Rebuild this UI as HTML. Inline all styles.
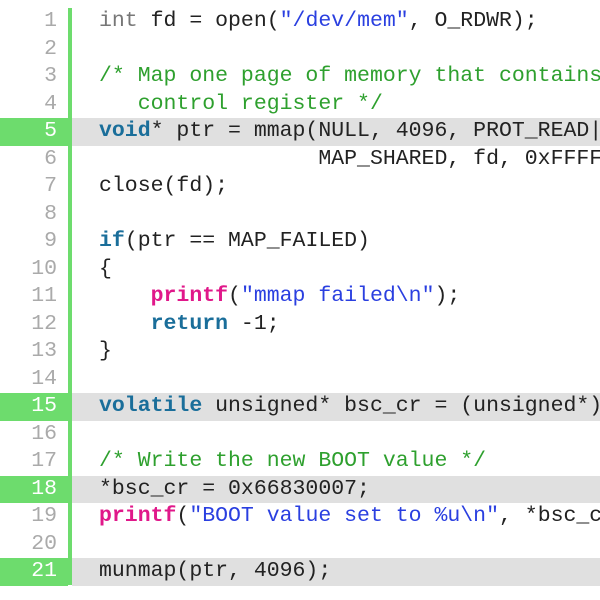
<!DOCTYPE html>
<html><head><style>
body{margin:0;width:600px;height:600px;background:#fff;overflow:hidden;position:relative;font-family:"Liberation Mono","DejaVu Sans Mono",monospace;font-size:21.5px;}
.bar{position:absolute;left:68px;top:8px;width:4px;height:577px;background:#6ddc6d;}
.l{position:absolute;left:0;width:600px;height:27.5px;line-height:27.5px;white-space:pre;overflow:hidden;}
.n{position:absolute;left:0;width:57px;text-align:right;color:#aaa;}
.c{position:absolute;left:99px;color:#222;}
.h .n{background:#6ddc6d;color:#fff;width:57px;padding-right:11px;}
.h::before{content:"";position:absolute;left:72px;right:0;top:0;bottom:0;background:#e0e0e0;}
.k{color:#1a6e9a;font-weight:bold}.t{color:#777}.cm{color:#2ea02e}.s{color:#2a3fe0}.f{color:#e0188a;font-weight:bold}
</style></head><body>
<div class="l" style="top:8px"><span class="n">1</span><span class="c"><span class="t">int</span> fd = open(<span class="s">"/dev/mem"</span>, O_RDWR);</span></div>
<div class="l" style="top:35.5px"><span class="n">2</span></div>
<div class="l" style="top:63px"><span class="n">3</span><span class="c cm">/* Map one page of memory that contains the</span></div>
<div class="l" style="top:90.5px"><span class="n">4</span><span class="c cm">   control register */</span></div>
<div class="l h" style="top:118px"><span class="n">5</span><span class="c"><span class="k">void</span>* ptr = mmap(NULL, 4096, PROT_READ|PROT_WRITE,</span></div>
<div class="l" style="top:145.5px"><span class="n">6</span><span class="c">                 MAP_SHARED, fd, 0xFFFF0000);</span></div>
<div class="l" style="top:173px"><span class="n">7</span><span class="c">close(fd);</span></div>
<div class="l" style="top:200.5px"><span class="n">8</span></div>
<div class="l" style="top:228px"><span class="n">9</span><span class="c"><span class="k">if</span>(ptr == MAP_FAILED)</span></div>
<div class="l" style="top:255.5px"><span class="n">10</span><span class="c">{</span></div>
<div class="l" style="top:283px"><span class="n">11</span><span class="c">    <span class="f">printf</span>(<span class="s">"mmap failed\n"</span>);</span></div>
<div class="l" style="top:310.5px"><span class="n">12</span><span class="c">    <span class="k">return</span> -1;</span></div>
<div class="l" style="top:338px"><span class="n">13</span><span class="c">}</span></div>
<div class="l" style="top:365.5px"><span class="n">14</span></div>
<div class="l h" style="top:393px"><span class="n">15</span><span class="c"><span class="k">volatile</span> unsigned* bsc_cr = (unsigned*)ptr;</span></div>
<div class="l" style="top:420.5px"><span class="n">16</span></div>
<div class="l" style="top:448px"><span class="n">17</span><span class="c cm">/* Write the new BOOT value */</span></div>
<div class="l h" style="top:475.5px"><span class="n">18</span><span class="c">*bsc_cr = 0x66830007;</span></div>
<div class="l" style="top:503px"><span class="n">19</span><span class="c"><span class="f">printf</span>(<span class="s">"BOOT value set to %u\n"</span>, *bsc_cr);</span></div>
<div class="l" style="top:530.5px"><span class="n">20</span></div>
<div class="l h" style="top:558px"><span class="n">21</span><span class="c">munmap(ptr, 4096);</span></div>
<div class="bar"></div>
</body></html>
